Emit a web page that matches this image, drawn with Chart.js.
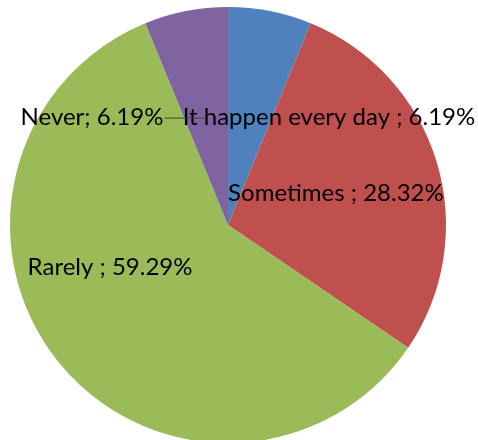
<!DOCTYPE html>
<html>
<head>
<meta charset="utf-8">
<script src="https://cdn.jsdelivr.net/npm/chart.js@4"></script>
<style>
  html, body { margin: 0; padding: 0; background: #fff; overflow: hidden; }
  #wrap { width: 478px; height: 440px; overflow: hidden; }
</style>
</head>
<body>
<div id="wrap"><canvas id="pie" width="478" height="450"></canvas></div>
<script>
// answers and their shares (percent)
const categories = ['It happen every day ', 'Sometimes ', 'Rarely ', 'Never'];
const shares = [6.19, 28.32, 59.29, 6.19];
const sliceColors = ['#4F81BD', '#C0504D', '#9BBB59', '#8064A2'];

// label anchor, as fraction of the radius from the pie centre
const labelSpots = [[0.463, -0.495], [0.495, -0.147], [-0.541, 0.193], [-0.624, -0.495]];

const pieLabels = {
  id: 'pieLabels',
  afterDatasetsDraw(chart) {
    const ctx = chart.ctx;
    const arcs = chart.getDatasetMeta(0).data;
    ctx.save();
    ctx.font = '24px Lato';
    ctx.fillStyle = '#000';
    ctx.textBaseline = 'middle';
    ctx.textAlign = 'center';
    arcs.forEach(function (arc, i) {
      const r = arc.outerRadius;
      const x = arc.x + labelSpots[i][0] * r;
      const y = arc.y + labelSpots[i][1] * r;
      const txt = categories[i] + '; ' + shares[i].toFixed(2) + '%';
      ctx.fillText(txt, x, y);
      if (i == 3) {
        // leader line into the small slice
        const w = ctx.measureText(txt).width;
        ctx.strokeStyle = '#404040';
        ctx.lineWidth = 1;
        ctx.beginPath();
        ctx.moveTo(x + w / 2 + 1, y + 1);
        ctx.lineTo(arc.x - 0.106 * r, y + 1);
        ctx.stroke();
      }
    });
    ctx.restore();
  }
};

const graph = document.querySelector('#pie');
new Chart(graph, {
  type: 'pie',
  data: {
    labels: categories,
    datasets: [{
      data: shares,
      backgroundColor: sliceColors,
      borderWidth: 0
    }]
  },
  options: {
    responsive: false,
    animation: false,
    layout: { padding: { left: 10, right: 32, top: 7, bottom: 7 } },
    plugins: { legend: { display: false }, tooltip: { enabled: false } }
  },
  plugins: [pieLabels]
});
</script>
</body>
</html>
